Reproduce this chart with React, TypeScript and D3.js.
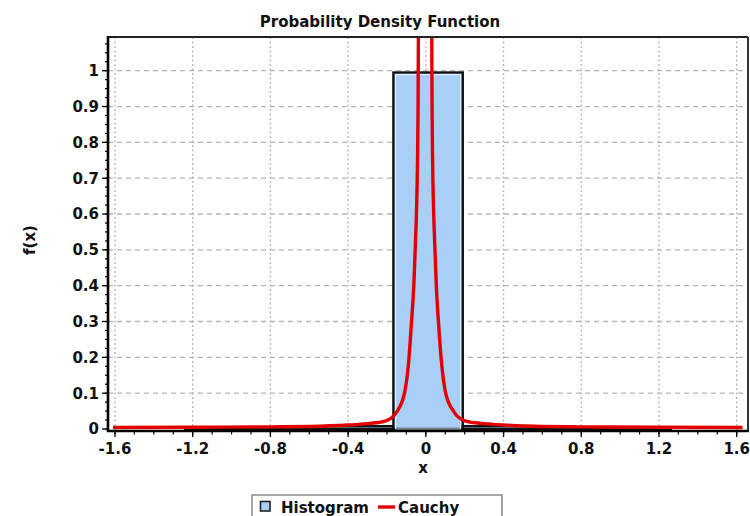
import React from "react";
import * as d3 from "d3";

// ---- data ----
const binStart = [-1.238, -0.881, -0.524, -0.167, 0.19, 0.547, 0.904];
const binEnd = [-0.881, -0.524, -0.167, 0.19, 0.547, 0.904, 1.261];
const binHeight = [0.003, 0.003, 0.008, 0.995, 0.008, 0.003, 0.003];

const curveX = [
  -1.61, -1.2, -0.8, -0.6, -0.4, -0.3, -0.21, -0.15, -0.11, -0.088, -0.075, -0.062, -0.055, -0.048, -0.043, -0.04, -0.038,
  -0.004,
  0.03, 0.032, 0.035, 0.04, 0.047, 0.054, 0.066, 0.08, 0.102, 0.142, 0.205, 0.3, 0.4, 0.6, 0.8, 1.2, 1.63,
];
const curveY = [
  0.004, 0.005, 0.006, 0.007, 0.011, 0.015, 0.022, 0.048, 0.1, 0.19, 0.29, 0.4, 0.5, 0.61, 0.74, 0.9, 1.15,
  20,
  1.15, 0.9, 0.74, 0.61, 0.5, 0.4, 0.29, 0.19, 0.1, 0.05, 0.022, 0.015, 0.011, 0.007, 0.006, 0.005, 0.004,
];

const xTicks = [-1.6, -1.2, -0.8, -0.4, 0, 0.4, 0.8, 1.2, 1.6];
const xTickLabels = ["-1.6", "-1.2", "-0.8", "-0.4", "0", "0.4", "0.8", "1.2", "1.6"];
const yTicks = [0, 0.1, 0.2, 0.3, 0.4, 0.5, 0.6, 0.7, 0.8, 0.9, 1];
const yTickLabels = ["0", "0.1", "0.2", "0.3", "0.4", "0.5", "0.6", "0.7", "0.8", "0.9", "1"];

const title = "Probability Density Function";
const xLabel = "x";
const yLabel = "f(x)";
const legendLabels = ["Histogram", "Cauchy"];

// ---- layout ----
const W = 750;
const H = 516;
const L = 108, R = 748, T = 37, B = 431;
const FONT = "'DejaVu Sans', Verdana, sans-serif";

export default function App() {
  const x = d3.scaleLinear().domain([-1.6, 1.6]).range([115, 736.7]);
  const y = d3.scaleLinear().domain([0, 1]).range([429, 70.7]);

  const xMinor = d3.range(-16, 17).map((i) => i / 10);
  const yMinor = d3.range(0, 44).map((i) => i * 0.025);

  const pts = curveX.map((v, i) => [v, curveY[i]] as [number, number]);
  const line = d3
    .line<[number, number]>()
    .x((d) => x(d[0]))
    .y((d) => y(d[1]))
    .curve(d3.curveMonotoneX);

  return (
    <svg
      width={W}
      height={H}
      style={{ position: "absolute", left: 0, top: 0, display: "block", background: "#fff" }}
      fontFamily={FONT}
    >
      <defs>
        <clipPath id="plot">
          <rect x={L} y={T} width={R - L} height={B - T} />
        </clipPath>
      </defs>
      <rect x={0} y={0} width={W} height={H} fill="#fff" />
      <rect x={L} y={T} width={R - L} height={B - T} fill="#fff" />

      {/* grid */}
      {yTicks.filter((v) => v > 0).map((v) => (
        <line key={"gy" + v} x1={L} x2={R} y1={y(v)} y2={y(v)} stroke="#b4b4b4" strokeWidth={1.3} strokeDasharray="5,4" />
      ))}
      {xTicks.map((v) => (
        <line key={"gx" + v} x1={x(v)} x2={x(v)} y1={T} y2={B} stroke="#b4b4b4" strokeWidth={1.3} strokeDasharray="2,2.5" />
      ))}

      {/* histogram */}
      <g clipPath="url(#plot)">
        {binStart.map((s, i) => {
          const x0 = x(s);
          const x1 = x(binEnd[i]);
          const y0 = y(binHeight[i]);
          const h = y(0) - y0;
          return (
            <g key={"b" + i}>
              <rect x={x0} y={y0} width={x1 - x0} height={Math.max(h, 0.5)} fill="#a9cff6" stroke="#111" strokeWidth={2.4} />
              {h > 8 && (
                <rect x={x0 + 2.2} y={y0 + 2.2} width={x1 - x0 - 4.4} height={h - 2.2} fill="none" stroke="#e8f2fd" strokeWidth={1} />
              )}
            </g>
          );
        })}
        <path d={line(pts) || ""} fill="none" stroke="#e30000" strokeWidth={3.4} strokeLinejoin="round" />
      </g>

      {/* frame */}
      <line x1={L} x2={R} y1={T} y2={T} stroke="#222" strokeWidth={2} />
      <line x1={R} x2={R} y1={T} y2={B} stroke="#333" strokeWidth={2} />
      <line x1={L} x2={L} y1={T - 1} y2={B + 1} stroke="#000" strokeWidth={2.6} />
      <line x1={L - 1} x2={R + 1} y1={B} y2={B} stroke="#000" strokeWidth={2.6} />

      {/* y ticks */}
      {yMinor.map((v, i) => (
        <line key={"ym" + i} x1={L - 3} x2={L} y1={y(v)} y2={y(v)} stroke="#000" strokeWidth={1.2} />
      ))}
      {yTicks.map((v, i) => (
        <g key={"yt" + v}>
          <line x1={L - 6} x2={L} y1={y(v)} y2={y(v)} stroke="#000" strokeWidth={1.3} />
          <text x={99} y={y(v)} dy="0.36em" textAnchor="end" fontSize={15} fontWeight="bold" fill="#111">
            {yTickLabels[i]}
          </text>
        </g>
      ))}

      {/* x ticks */}
      {xMinor.map((v, i) => (
        <line key={"xm" + i} x1={x(v)} x2={x(v)} y1={B} y2={B + 3.5} stroke="#000" strokeWidth={1.2} />
      ))}
      {xTicks.map((v, i) => (
        <g key={"xt" + v}>
          <line x1={x(v)} x2={x(v)} y1={B} y2={B + 6} stroke="#000" strokeWidth={1.3} />
          <text x={x(v)} y={454} textAnchor="middle" fontSize={15} fontWeight="bold" fill="#111">
            {xTickLabels[i]}
          </text>
        </g>
      ))}

      {/* titles */}
      <text x={380} y={27} textAnchor="middle" fontSize={15} fontWeight="bold" fill="#111">
        {title}
      </text>
      <text x={423} y={473} textAnchor="middle" fontSize={15} fontWeight="bold" fill="#111">
        {xLabel}
      </text>
      <text transform="translate(35,240) rotate(-90)" textAnchor="middle" fontSize={15} fontWeight="bold" fill="#111">
        {yLabel}
      </text>

      {/* legend */}
      <rect x={252} y={495} width={250} height={30} fill="#fff" stroke="#8a8a8a" strokeWidth={1.5} />
      <rect x={260.5} y={501.5} width={9.5} height={9.5} fill="#a9cff6" stroke="#222" strokeWidth={1.6} />
      <text x={281} y={513} fontSize={15} fontWeight="bold" fill="#111">
        {legendLabels[0]}
      </text>
      <line x1={378} x2={395} y1={507} y2={507} stroke="#e30000" strokeWidth={3.4} />
      <text x={398} y={513} fontSize={15} fontWeight="bold" fill="#111">
        {legendLabels[1]}
      </text>
    </svg>
  );
}
